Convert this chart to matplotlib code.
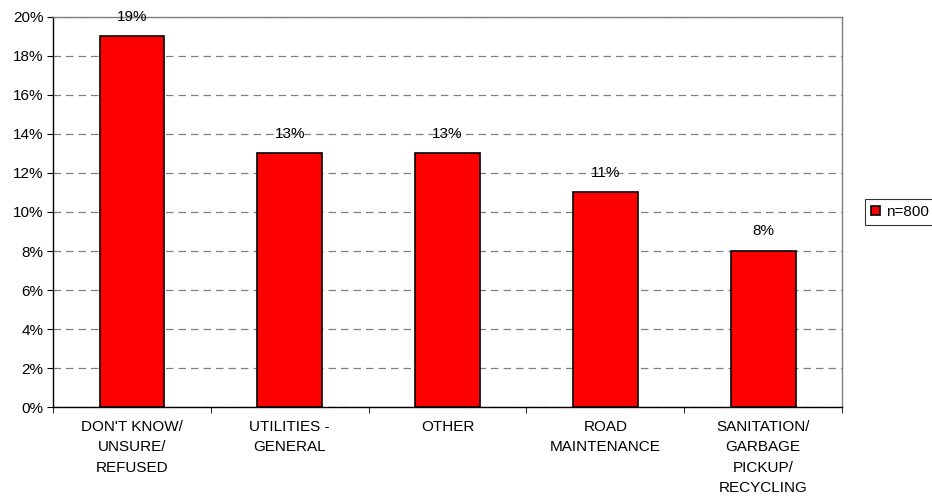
import numpy as np
import matplotlib
matplotlib.use("Agg")
import matplotlib.pyplot as plt

categories = [
    "DON'T KNOW/\nUNSURE/\nREFUSED",
    "UTILITIES -\nGENERAL",
    "OTHER",
    "ROAD\nMAINTENANCE",
    "SANITATION/\nGARBAGE\nPICKUP/\nRECYCLING",
]
values = [19, 13, 13, 11, 8]
series_name = "n=800"

plt.rcParams["font.family"] = ["Liberation Sans", "DejaVu Sans"]
plt.rcParams["font.size"] = 11

fig = plt.figure(figsize=(9.32, 5.01), dpi=100)
ax = fig.add_axes([0.0569, 0.1876, 0.8466, 0.7785])

x = np.arange(len(categories))
ax.bar(x, values, width=0.41, color="#ff0000", edgecolor="black",
       linewidth=1.2, label=series_name, zorder=3)

# value labels sit on the gridline just above each bar
for xi, v in zip(x, values):
    ax.text(xi, v + 1.0, f"{v}%", ha="center", va="center", fontsize=11, zorder=4)

ax.set_xlim(-0.5, len(categories) - 0.5)
ax.set_ylim(0, 20)
ax.set_yticks(np.arange(0, 21, 2))
ax.set_yticklabels([f"{t}%" for t in range(0, 21, 2)])
ax.yaxis.grid(True, linestyle=(0, (6, 4)), color="#808080", linewidth=0.9, zorder=0)

ax.set_xticks(x)
ax.set_xticklabels(categories, linespacing=1.6)
ax.set_xticks(np.arange(-0.5, len(categories), 1), minor=True)
ax.tick_params(axis="x", which="major", length=0, pad=9)
ax.tick_params(axis="x", which="minor", length=4, direction="out")
ax.tick_params(axis="y", length=4, direction="out", pad=3)

for s in ["left", "bottom"]:
    ax.spines[s].set_color("black")
    ax.spines[s].set_linewidth(1.0)
for s in ["top", "right"]:
    ax.spines[s].set_color("#808080")
    ax.spines[s].set_linewidth(1.0)

leg = ax.legend(loc="center left", bbox_to_anchor=(1.029, 0.50), frameon=True,
                fancybox=False, edgecolor="black", handlelength=0.6,
                handleheight=0.6, handletextpad=0.4, borderpad=0.4,
                borderaxespad=0, fontsize=11)
leg.get_frame().set_linewidth(0.8)

fig.savefig("out.png", dpi=100)
